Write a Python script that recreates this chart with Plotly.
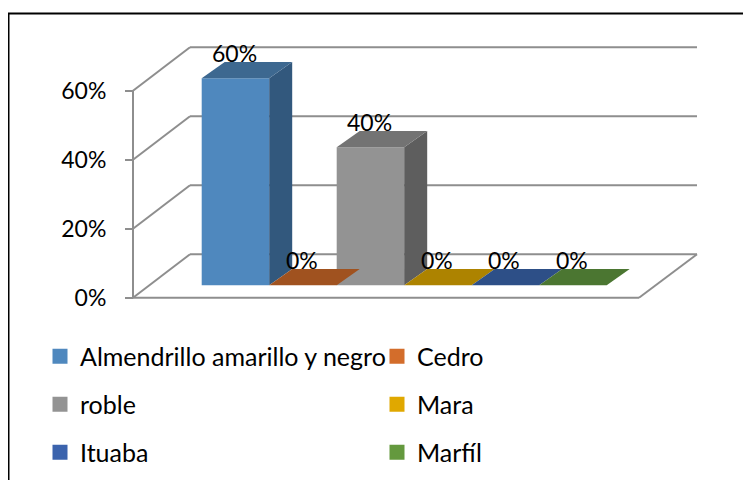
import plotly.graph_objects as go

# ---------------- data ----------------
categories = ["Almendrillo amarillo y negro", "Cedro", "roble", "Mara", "Ituaba", "Marfíl"]
values = [0.60, 0.0, 0.40, 0.0, 0.0, 0.0]
labels = ["60%", "0%", "40%", "0%", "0%", "0%"]
tick_vals = [0.0, 0.2, 0.4, 0.6]
tick_text = ["0%", "20%", "40%", "60%"]

# ---------------- style ----------------
front_colors = ["#4F88BE", "#D36D2B", "#939393", "#E0A800", "#3B63AD", "#64993E"]
side_colors = ["#32587D", "#8A4519", "#5E5E5E", "#8F6C00", "#263F70", "#3F6228"]
top_colors = ["#3D6890", "#A0521F", "#737373", "#AD8300", "#2D4F87", "#4B7631"]
FONT = "Lato"
GRID = "#8E8E8E"

OFF = 8                     # page body margin
W, H = 751 - OFF, 480 - OFF  # figure size
# pixel geometry of the projected box, in page pixels (layout, not data)
BAR_LEFT_PX = 201.7 - OFF
PX_PER_X = 67.5
BASE_PX = 285.3 - OFF
PX_PER_Y = 345.0
FRONT_SHIFT = (-16.3, 12.4)
BACK_SHIFT = (40.7, -31.0)
BAR_DEPTH = (23.0, -16.3)
WALL_FRONT_LEFT_PX = 133.0 - OFF
FLOOR_FRONT_RIGHT_PX = 639.0 - OFF
WALL_BACK_LEFT_PX = 190.0 - OFF
WALL_BACK_RIGHT_PX = 697.0 - OFF

def px_to_x(px):
    return (px - BAR_LEFT_PX) / PX_PER_X - 0.5

def dxu(px):
    return px / PX_PER_X

def dyu(px):
    return -px / PX_PER_Y

x_range = [px_to_x(0), px_to_x(W)]
y_range = [(BASE_PX - H) / PX_PER_Y, BASE_PX / PX_PER_Y]
front_dy = dyu(FRONT_SHIFT[1])
back_dy = dyu(BACK_SHIFT[1])
bdx, bdy = dxu(BAR_DEPTH[0]), dyu(BAR_DEPTH[1])

fig = go.Figure()

# side and top faces
for i, v in enumerate(values):
    x0, x1 = i - 0.5, i + 0.5
    if v > 0:
        fig.add_trace(go.Scatter(
            x=[x1, x1 + bdx, x1 + bdx, x1, x1],
            y=[0, bdy, v + bdy, v, 0],
            fill="toself", fillcolor=side_colors[i], mode="lines",
            line=dict(width=0, color=side_colors[i]),
            showlegend=False, hoverinfo="skip"))
    fig.add_trace(go.Scatter(
        x=[x0, x1, x1 + bdx, x0 + bdx, x0],
        y=[v, v, v + bdy, v + bdy, v],
        fill="toself", fillcolor=top_colors[i], mode="lines",
        line=dict(width=0, color=top_colors[i]),
        showlegend=False, hoverinfo="skip"))

# front faces
legend_ids = ["legend", "legend", "legend2", "legend2", "legend3", "legend3"]
for i, (name, v) in enumerate(zip(categories, values)):
    fig.add_trace(go.Bar(
        x=[i], y=[v], width=1, name=name, showlegend=False,
        marker=dict(color=front_colors[i], line=dict(width=0)),
        hoverinfo="skip"))
    # legend entry with a larger square swatch
    fig.add_trace(go.Scatter(
        x=[None], y=[None], mode="markers", name=name,
        marker=dict(symbol="square", size=15, color=front_colors[i]),
        legend=legend_ids[i], hoverinfo="skip"))

# data labels
for i, (v, t) in enumerate(zip(values, labels)):
    fig.add_annotation(x=i, y=v, text=t, showarrow=False, yshift=25.5,
                       xshift=-1, yanchor="middle",
                       font=dict(family=FONT, size=23, color="#000000"))

# wall / floor lines
shapes = []
xl_f = px_to_x(WALL_FRONT_LEFT_PX)
xr_f = px_to_x(FLOOR_FRONT_RIGHT_PX)
xl_b = px_to_x(WALL_BACK_LEFT_PX)
xr_b = px_to_x(WALL_BACK_RIGHT_PX)
line = dict(color=GRID, width=2)
for tv in tick_vals:
    shapes.append(dict(type="line", x0=xl_b, x1=xr_b, y0=tv + back_dy, y1=tv + back_dy,
                       xref="x", yref="y", line=line, layer="below"))
    shapes.append(dict(type="line", x0=xl_f, x1=xl_b, y0=tv + front_dy, y1=tv + back_dy,
                       xref="x", yref="y", line=line, layer="below"))
shapes.append(dict(type="line", x0=xl_f, x1=xl_f, y0=front_dy, y1=max(tick_vals) + front_dy,
                   xref="x", yref="y", line=line, layer="below"))
shapes.append(dict(type="line", x0=xl_f, x1=xr_f, y0=front_dy, y1=front_dy,
                   xref="x", yref="y", line=line, layer="below"))
shapes.append(dict(type="line", x0=xr_f, x1=xr_b, y0=front_dy, y1=back_dy,
                   xref="x", yref="y", line=line, layer="below"))
# outer frame
shapes.append(dict(type="rect", xref="paper", yref="paper",
                   x0=(8.5 - OFF) / W, x1=1.02, y0=-0.02, y1=1 - (13.5 - OFF) / H,
                   line=dict(color="#000000", width=2), fillcolor="rgba(0,0,0,0)"))

leg_common = dict(orientation="h", xanchor="left", yanchor="middle",
                  entrywidth=292, entrywidthmode="pixels",
                  bgcolor="rgba(0,0,0,0)", borderwidth=0,
                  font=dict(family=FONT, size=25, color="#000000"))
lx = (40 - OFF) / W
fig.update_layout(
    width=W, height=H,
    margin=dict(l=0, r=0, t=0, b=0),
    paper_bgcolor="#FFFFFF", plot_bgcolor="rgba(0,0,0,0)",
    barmode="overlay",
    showlegend=True,
    xaxis=dict(range=x_range, visible=False, fixedrange=True),
    yaxis=dict(range=y_range, visible=False, fixedrange=True),
    yaxis2=dict(range=[y_range[0] - front_dy, y_range[1] - front_dy],
                overlaying="y", anchor="free", position=WALL_FRONT_LEFT_PX / W,
                side="left", tickvals=tick_vals, ticktext=tick_text,
                ticks="outside", ticklen=8, tickwidth=2, tickcolor=GRID,
                showline=False, showgrid=False, zeroline=False,
                ticklabelstandoff=14,
                tickfont=dict(family=FONT, size=23, color="#000000")),
    legend=dict(x=lx, y=1 - (356.5 - OFF) / H, **leg_common),
    legend2=dict(x=lx, y=1 - (404.5 - OFF) / H, **leg_common),
    legend3=dict(x=lx, y=1 - (452.5 - OFF) / H, **leg_common),
    shapes=shapes,
)
# an invisible trace to activate yaxis2
fig.add_trace(go.Scatter(x=[0], y=[0], yaxis="y2", mode="markers",
                         marker=dict(opacity=0), showlegend=False, hoverinfo="skip"))

fig.write_html("out.html")
